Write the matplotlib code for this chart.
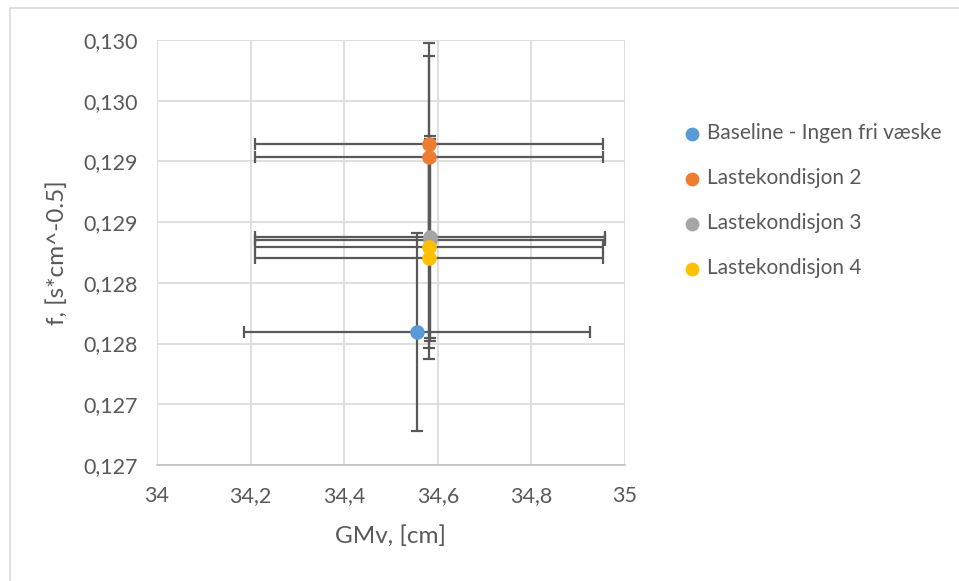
import matplotlib.pyplot as plt
from matplotlib.patches import Rectangle

# GMv [cm] og f [s*cm^-0.5] for hver lastekondisjon, med usikkerheter
series_names = ["Baseline - Ingen fri væske", "Lastekondisjon 2", "Lastekondisjon 3", "Lastekondisjon 4"]
series_colors = ["#5B9BD5", "#ED7D31", "#A5A5A5", "#FFC000"]

baseline_gmv = [34.556]
baseline_f = [0.127595]
baseline_gmv_err = [0.370]
baseline_f_err = [0.000815]

lk2_gmv = [34.582, 34.582]
lk2_f = [0.129144, 0.129036]
lk2_gmv_err = [0.372, 0.372]
lk2_f_err = [0.000832, 0.000832]

lk3_gmv = [34.583, 34.583]
lk3_f = [0.128378, 0.128353]
lk3_gmv_err = [0.374, 0.374]
lk3_f_err = [0.000832, 0.000832]

lk4_gmv = [34.582, 34.582]
lk4_f = [0.128295, 0.128205]
lk4_gmv_err = [0.372, 0.372]
lk4_f_err = [0.000832, 0.000832]

x_ticks = [34.0, 34.2, 34.4, 34.6, 34.8, 35.0]
x_tick_labels = ["34", "34,2", "34,4", "34,6", "34,8", "35"]
y_ticks = [0.1265, 0.1270, 0.1275, 0.1280, 0.1285, 0.1290, 0.1295, 0.1300]
y_tick_labels = ["0,127", "0,127", "0,128", "0,128", "0,129", "0,129", "0,130", "0,130"]

gmv = [baseline_gmv, lk2_gmv, lk3_gmv, lk4_gmv]
f = [baseline_f, lk2_f, lk3_f, lk4_f]
gmv_err = [baseline_gmv_err, lk2_gmv_err, lk3_gmv_err, lk4_gmv_err]
f_err = [baseline_f_err, lk2_f_err, lk3_f_err, lk4_f_err]

plt.rcParams['font.family'] = ['Lato', 'DejaVu Sans']
txt_color = '#595959'

fig = plt.figure(figsize=(9.59, 5.81), dpi=100)
ax = fig.add_axes([0.1637, 0.1997, 0.488, 0.7315])

# feilstolper først, punktene over
for i in range(4):
    ax.errorbar(gmv[i], f[i], xerr=gmv_err[i], yerr=f_err[i], fmt='none',
                ecolor='#595959', elinewidth=1.6, capsize=4.5, capthick=1.6, zorder=3)
handles = []
for i in range(4):
    h = ax.scatter(gmv[i], f[i], s=110, color=series_colors[i], zorder=4,
                   label=series_names[i], linewidths=0)
    handles.append(h)

ax.set_xlim(34, 35)
ax.set_ylim(0.1265, 0.1300)
ax.set_xticks(x_ticks)
ax.set_xticklabels(x_tick_labels)
ax.set_yticks(y_ticks)
ax.set_yticklabels(y_tick_labels)
ax.tick_params(axis='both', length=0, labelsize=15.5, colors=txt_color)
ax.tick_params(axis='x', pad=15)
ax.tick_params(axis='y', pad=14)

ax.grid(True, color='#D9D9D9', linewidth=1.2)
ax.set_axisbelow(True)
for s in ['top', 'right', 'left']:
    ax.spines[s].set_visible(False)
ax.spines['bottom'].set_color('#BFBFBF')
ax.spines['bottom'].set_linewidth(1.2)

ax.set_xlabel("GMv, [cm]", fontsize=17.5, color=txt_color, labelpad=14)
ax.set_ylabel("f, [s*cm^-0.5]", fontsize=17.5, color=txt_color, labelpad=11)

fig.legend(handles=handles, loc='upper left', bbox_to_anchor=(0.6915, 0.802),
           frameon=False, fontsize=15, labelcolor=txt_color, handletextpad=-0.3,
           labelspacing=1.2, markerscale=0.95, borderaxespad=0)

# ramme rundt hele figuren
fig.patches.append(Rectangle((0.0105, -0.01), 1.0, 0.9962, transform=fig.transFigure,
                             fill=False, edgecolor='#D9D9D9', linewidth=1.2))

fig.savefig('out.png', dpi=100)
